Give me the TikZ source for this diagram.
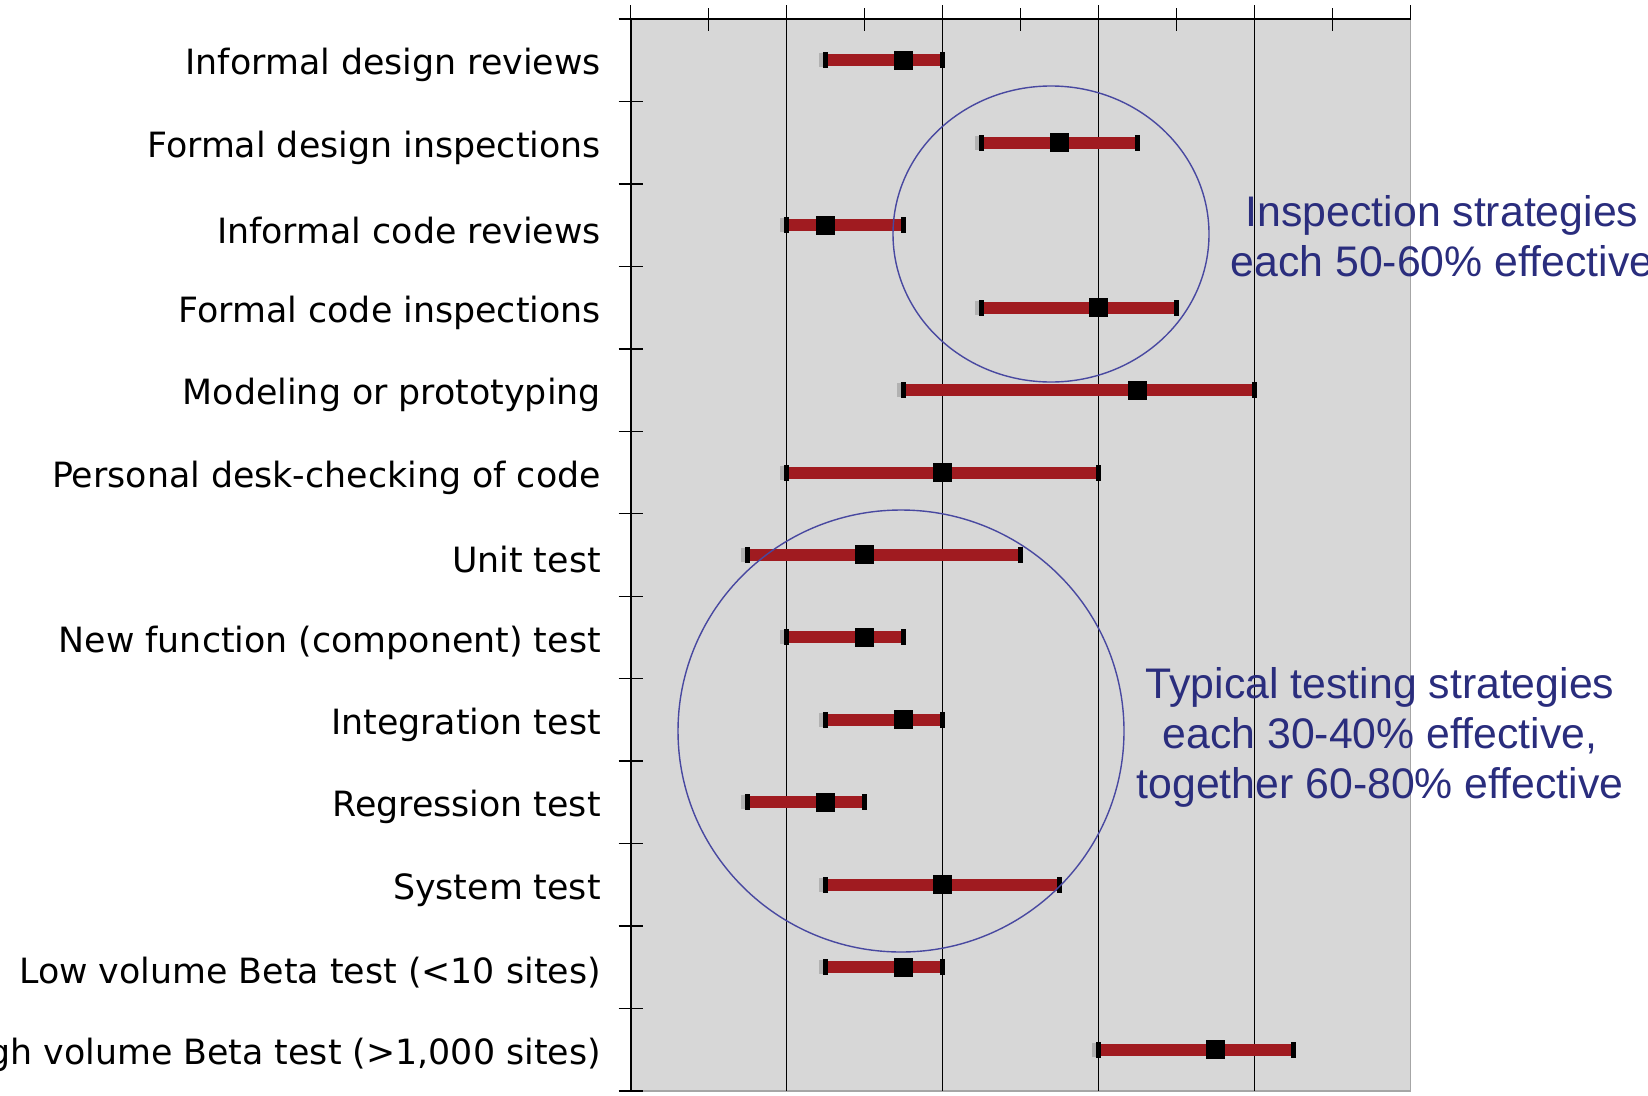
\documentclass[tikz,border=0pt]{standalone}
\usepackage{fontspec}
\setmainfont{DejaVu Sans}
\newfontfamily\notefont{Liberation Sans}
\usetikzlibrary{positioning}

\definecolor{barred}{RGB}{160,27,32}
\definecolor{plotgray}{RGB}{215,215,215}
\definecolor{ringblue}{RGB}{72,72,160}
\definecolor{notenavy}{RGB}{42,45,125}

\begin{document}
\begin{tikzpicture}[x=1pt, y=-1pt,
  rowlabel/.style={anchor=east, inner sep=0pt, yshift=-5pt, font=\fontsize{34.8}{40}\selectfont},
  notetext/.style={align=center, inner sep=0pt, text=notenavy, font=\notefont\fontsize{42.8}{50}\selectfont},
  ring/.style={draw=ringblue, line width=1.4pt},
  gridline/.style={black, line width=1.4pt},
  rangebar/.style={barred, line width=12pt},
  midmark/.style={fill=black, minimum size=19pt, inner sep=0pt},
  endcap/.style={fill=black, minimum width=4.5pt, minimum height=16pt, inner sep=0pt},
  capshadow/.style={fill=black!30, minimum width=5pt, minimum height=14pt, inner sep=0pt}]

  \useasboundingbox (0,0) rectangle (1648,1095);

  % plot area, 0..100 % across, 13 rows down
  \begin{scope}[shift={(630.6,19)}, x=7.8pt, y=-82.46pt]
    \fill[plotgray] (0,0) rectangle (100,13);
    \draw[black!35, line width=1.2pt] (0,13) -- (100,13) -- (100,0);
    \foreach \p in {20,40,60,80}
      \draw[gridline] (\p,0) -- (\p,13);

    % axes and ticks
    \draw[black, line width=1.8pt] ([xshift=-12pt]0,0) -- (100,0);
    \draw[black, line width=1.8pt] (0,0) -- (0,13);
    \foreach \p in {0,20,...,100}
      \draw[black, line width=1.4pt] ([yshift=14pt]\p,0) -- (\p,0);
    \foreach \p in {10,30,...,90}
      \draw[black, line width=1.4pt] ([yshift=11pt]\p,0) -- ([yshift=-12pt]\p,0);
    \foreach \r in {1,...,13}
      \draw[black, line width=1.4pt] ([xshift=-12pt]0,\r) -- ([xshift=12pt]0,\r);

    % rows: low / median / high
    \foreach \lo/\md/\hi/\txt [count=\i] in {
        25/35/40/Informal design reviews,
        45/55/65/Formal design inspections,
        20/25/35/Informal code reviews,
        45/60/70/Formal code inspections,
        35/65/80/Modeling or prototyping,
        20/40/60/Personal desk-checking of code,
        15/30/50/Unit test,
        20/30/35/New function (component) test,
        25/35/40/Integration test,
        15/25/30/Regression test,
        25/40/55/System test,
        25/35/40/Low volume Beta test (<10 sites),
        60/75/85/{High volume Beta test (>1,000 sites)}} {
      \node[rowlabel] (lab\i) at ([xshift=-29.6pt]0,{\i-0.5}) {\txt};
      \coordinate (lo\i) at (\lo,{\i-0.5});
      \coordinate (hi\i) at (\hi,{\i-0.5});
      \draw[rangebar] (lo\i) -- (hi\i);
      \node[capshadow] at ([xshift=-4.5pt]lo\i) {};
      \node[endcap] (locap\i) at (lo\i) {};
      \node[endcap] (hicap\i) at (hi\i) {};
      \node[midmark] (md\i) at (\md,{\i-0.5}) {};
    }
  \end{scope}

  % groupings
  \draw[ring] (1051,234) ellipse [x radius=158pt, y radius=148pt];
  \draw[ring] (901,731) ellipse [x radius=223pt, y radius=221pt];

  \node[notetext] (insp) at (1442,236) {Inspection strategies\\each 50-60\% effective};
  \node[notetext] (test) at (1380,737) {Typical testing strategies\\each 30-40\% effective,\\together 60-80\% effective};

\end{tikzpicture}
\end{document}
